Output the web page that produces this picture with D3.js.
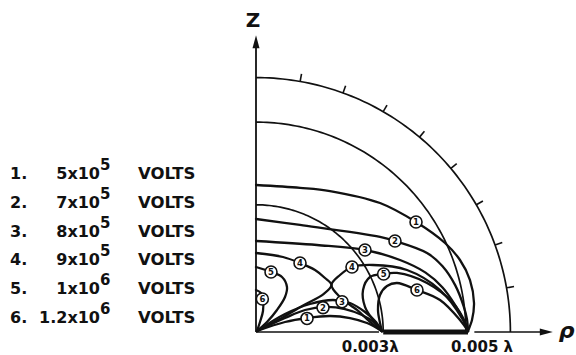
<!DOCTYPE html>
<html><head><meta charset="utf-8">
<script src="https://cdn.jsdelivr.net/npm/d3@7"></script>
<style>body{margin:0;background:#fff}svg{display:block}</style>
</head><body>
<svg id="c" width="576" height="355"></svg>
<script>
// ---- data (coordinates in units of 0.001 λ: [rho, z]) ----
const legendNumbers = ["1.", "2.", "3.", "4.", "5.", "6."];
const legendMantissa = ["5x10", "7x10", "8x10", "9x10", "1x10", "1.2x10"];
const legendExponent = ["5", "5", "5", "5", "6", "6"];
const legendUnit = "VOLTS";

const circleRadii = [3, 4.95, 6];         // 0.003λ, 0.005λ, outer arcs
const tickAngles = [10, 20, 30, 40, 50, 60, 70, 80]; // degrees from z axis, on outer arc
const electrode = [3, 5];                 // thick bar on rho axis
const axisMax = 7;
const rhoLabels = [{v: 3, t: "0.003λ"}, {v: 5, t: "0.005 λ"}];

const curve1Upper = [[0,3.467],[1.04,3.40],[1.745,3.325],[2.925,3.042],[3.774,2.594],[4.458,2.099],[4.811,1.698],[5.047,1.226],[5.142,0.684],[5.094,0.283],[5.0,0.02]];
const curve2Upper = [[0,2.665],[1.038,2.524],[2.925,2.241],[3.278,2.146],[4.033,1.863],[4.40,1.55],[4.70,1.10],[4.90,0.60],[4.976,0.30],[5.0,0.02]];
const curve3Upper = [[0,2.146],[1.439,2.052],[2.571,1.934],[3.396,1.698],[4.0,1.40],[4.40,1.05],[4.72,0.60],[4.90,0.28],[5.0,0.02]];
const curve4Right = [[5.0,0.02],[4.882,0.283],[4.34,0.991],[3.561,1.462],[2.759,1.58],[2.264,1.533],[1.981,1.344],[1.78,1.11],[1.981,0.825],[2.382,0.519],[2.689,0.236],[2.97,0.02]];
const curve4Left = [[0,1.863],[0.637,1.769],[1.038,1.627],[1.392,1.462],[1.627,1.274],[1.78,1.11],[1.60,0.90],[1.10,0.62],[0.55,0.30],[0.024,0.024]];
const curve5Left = [[0,1.533],[0.354,1.415],[0.613,1.297],[0.731,1.061],[0.684,0.825],[0.495,0.519],[0.259,0.236],[0.024,0.024]];
const curve5Right = [[5.0,0.02],[4.929,0.236],[4.646,0.684],[4.033,1.156],[3.325,1.392],[2.995,1.368],[2.689,1.297],[2.524,0.991],[2.571,0.590],[2.759,0.283],[2.97,0.02]];
const curve6Left = [[0,0.991],[0.118,0.920],[0.165,0.755],[0.165,0.495],[0.094,0.236],[0.024,0.024]];
const curve6Right = [[5.0,0.02],[4.811,0.283],[4.34,0.755],[3.797,0.991],[3.325,1.156],[3.09,1.085],[2.925,0.873],[2.877,0.519],[2.925,0.212],[2.97,0.02]];
const arch1 = [[0.024,0.024],[0.684,0.236],[1.203,0.330],[1.745,0.377],[2.217,0.330],[2.618,0.212],[2.97,0.02]];
const arch2 = [[0.024,0.024],[0.684,0.330],[1.156,0.519],[1.627,0.590],[2.099,0.542],[2.5,0.401],[2.807,0.212],[2.97,0.02]];
const arch3 = [[0.024,0.024],[0.684,0.425],[1.274,0.660],[1.816,0.755],[2.217,0.684],[2.571,0.472],[2.83,0.236],[2.97,0.02]];

const curveMarkers = [
  {n:"1", p:[3.774,2.594]}, {n:"2", p:[3.278,2.146]}, {n:"3", p:[2.571,1.934]},
  {n:"4", p:[1.038,1.627]}, {n:"4", p:[2.264,1.533]},
  {n:"5", p:[0.354,1.415]}, {n:"5", p:[3.01,1.368]},
  {n:"6", p:[0.150,0.778]}, {n:"6", p:[3.797,0.991]},
  {n:"1", p:[1.203,0.320]}, {n:"2", p:[1.58,0.575]}, {n:"3", p:[2.03,0.715]}
];

// ---- drawing ----
const svg = d3.select("#c");
const k = 42.4;
const x = d3.scaleLinear().domain([0, axisMax]).range([256, 256 + axisMax * k]);
const y = d3.scaleLinear().domain([0, axisMax]).range([332, 332 - axisMax * k]);
const ink = "#111";

const line = d3.line().x(d => x(d[0])).y(d => y(d[1])).curve(d3.curveCatmullRom.alpha(0.5));
const straight = d3.line().x(d => x(d[0])).y(d => y(d[1]));

// arcs
const deg = d3.range(0, 90.01, 1);
circleRadii.forEach(r => {
  const pts = deg.map(a => [r * Math.sin(a * Math.PI / 180), r * Math.cos(a * Math.PI / 180)]);
  svg.append("path").attr("d", straight(pts)).attr("fill", "none").attr("stroke", ink).attr("stroke-width", 1.7);
});
// ticks on outer arc
const rOut = d3.max(circleRadii);
tickAngles.forEach(a => {
  const s = Math.sin(a * Math.PI / 180), c = Math.cos(a * Math.PI / 180);
  svg.append("path").attr("d", straight([[rOut * s, rOut * c], [(rOut + 0.18) * s, (rOut + 0.18) * c]]))
    .attr("stroke", ink).attr("stroke-width", 1.6);
});

// curves
const curves = [curve1Upper, curve2Upper, curve3Upper, curve4Right, curve4Left, curve5Left, curve5Right, curve6Left, curve6Right, arch1, arch2, arch3];
curves.forEach(c => {
  svg.append("path").attr("d", line(c)).attr("fill", "none").attr("stroke", ink)
    .attr("stroke-width", 2.3).attr("stroke-linejoin", "round").attr("stroke-linecap", "round");
});

// axes
svg.append("path").attr("d", straight([[0, 0], [0, axisMax - 0.28]])).attr("stroke", ink).attr("stroke-width", 1.8);
svg.append("path").attr("d", straight([[0, 0], [electrode[0] - 0.1, 0]])).attr("stroke", ink).attr("stroke-width", 1.6);
svg.append("path").attr("d", straight([[electrode[1] + 0.15, 0], [axisMax - 0.28, 0]])).attr("stroke", ink).attr("stroke-width", 1.6);
svg.append("path").attr("d", straight([[electrode[0], 0], [electrode[1], 0]])).attr("stroke", ink).attr("stroke-width", 5);
// arrowheads
const zt = [x(0), y(axisMax)];
svg.append("path").attr("d", `M${zt[0]},${zt[1]} L${zt[0]-3.5},${zt[1]+13} L${zt[0]+3.5},${zt[1]+13} Z`).attr("fill", ink);
const rt = [x(axisMax), y(0)];
svg.append("path").attr("d", `M${rt[0]},${rt[1]} L${rt[0]-13},${rt[1]-3.5} L${rt[0]-13},${rt[1]+3.5} Z`).attr("fill", ink);

// axis labels
svg.append("text").attr("x", x(0) - 3).attr("y", 27).attr("text-anchor", "middle")
  .attr("font-family", "DejaVu Sans").attr("font-weight", "bold").attr("font-size", 20).attr("fill", ink).text("Z");
svg.append("text").attr("x", x(axisMax) + 6).attr("y", y(0) + 6)
  .attr("font-family", "DejaVu Sans").attr("font-weight", "bold").attr("font-style", "italic").attr("font-size", 22).attr("fill", ink).text("ρ");
rhoLabels.forEach((d, i) => {
  svg.append("text").attr("x", x(d.v) + (i === 0 ? -13 : 14)).attr("y", 352).attr("text-anchor", "middle")
    .attr("font-family", "DejaVu Sans").attr("font-weight", "bold").attr("font-size", 15).attr("fill", ink).text(d.t);
});

// curve markers
const mg = svg.selectAll("g.m").data(curveMarkers).join("g").attr("class", "m")
  .attr("transform", d => `translate(${x(d.p[0])},${y(d.p[1])})`);
mg.append("circle").attr("r", 6).attr("fill", "#fff").attr("stroke", ink).attr("stroke-width", 1.6);
mg.append("text").attr("text-anchor", "middle").attr("dy", "0.36em").attr("font-family", "DejaVu Sans")
  .attr("font-weight", "bold").attr("font-size", 8.5).attr("fill", ink).text(d => d.n);

// legend
legendNumbers.forEach((n, i) => {
  const by = 179 + i * 28.8;
  const f = (t) => t.attr("font-family", "DejaVu Sans").attr("font-weight", "bold").attr("fill", ink);
  f(svg.append("text").attr("x", 10).attr("y", by).attr("font-size", 16)).text(n);
  f(svg.append("text").attr("x", 100).attr("y", by).attr("text-anchor", "end").attr("font-size", 16)).text(legendMantissa[i]);
  f(svg.append("text").attr("x", 100).attr("y", by - 9).attr("font-size", 15)).text(legendExponent[i]);
  f(svg.append("text").attr("x", 138).attr("y", by).attr("font-size", 16.5)).text(legendUnit);
});
</script>
</body></html>
